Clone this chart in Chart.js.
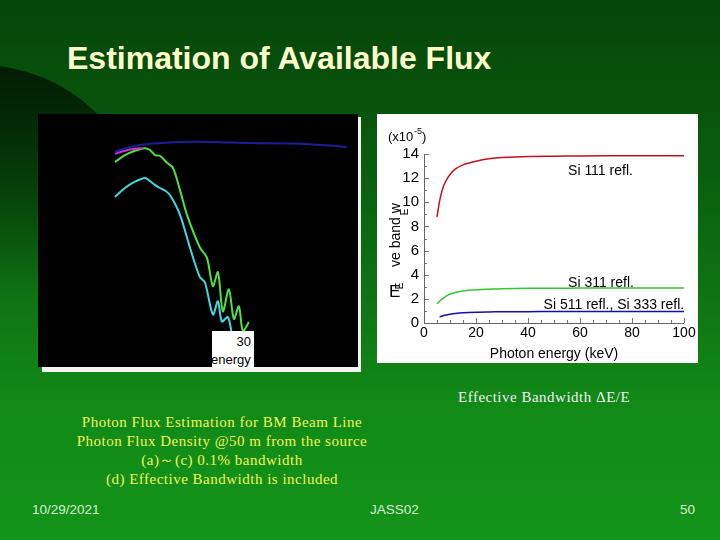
<!DOCTYPE html>
<html>
<head>
<meta charset="utf-8">
<script src="https://cdn.jsdelivr.net/npm/chart.js@4"></script>
<style>
    html, body { margin: 0; padding: 0; }
    body {
        width: 720px; height: 540px; position: relative; overflow: hidden;
        background: linear-gradient(to bottom, #054509 0%, #08580d 25%, #0e7413 55%, #118a17 75%, #13941a 100%);
        font-family: "Liberation Sans", Arial, sans-serif;
    }
    .arc {
        position: absolute; left: -185px; top: 65px; width: 330px; height: 330px; border-radius: 50%;
        background: linear-gradient(to bottom, rgba(0,22,2,0.88) 0%, rgba(0,22,2,0.6) 25%, rgba(0,22,2,0) 70%);
    }
    .title {
        position: absolute; left: 67px; top: 40px; color: #ffffcc; font-weight: bold; font-size: 32px;
        white-space: nowrap;
    }
    #leftWrap { position: absolute; left: 38px; top: 114px; width: 320px; height: 253px; background: #000; }
    .stripB { position: absolute; left: 42px; top: 367px; width: 319px; height: 5px; background: #f4f4f4; }
    .stripR { position: absolute; left: 358px; top: 117px; width: 3px; height: 255px; background: #f4f4f4; }
    .tickBox {
        position: absolute; left: 212px; top: 331px; width: 42px; height: 37px; background: #fff;
        overflow: hidden; font-size: 13px; color: #000;
    }
    #rightWrap { position: absolute; left: 377px; top: 114px; width: 321px; height: 249px; background: #fff; }
    .cap { position: absolute; font-family: "Liberation Serif", "Times New Roman", serif; white-space: nowrap; }
    .foot { position: absolute; top: 502px; color: #dcefd4; font-size: 13.5px; }
</style>
</head>
<body>
<div class="arc"></div>
<div class="title">Estimation of Available Flux</div>

<div id="leftWrap"><canvas id="fluxChart" width="320" height="253"></canvas></div>
<div class="stripB"></div>
<div class="stripR"></div>
<div class="tickBox">
    <div style="position:absolute; right:3px; top:3px;">30</div>
    <div style="position:absolute; left:-1px; top:21px; white-space:nowrap;">energy (keV)</div>
</div>

<div id="rightWrap"><canvas id="bwChart" width="321" height="249"></canvas></div>

<div class="cap" style="left:458px; top:389px; color:#f2f2f2; font-size:15px; letter-spacing:0.5px;">Effective Bandwidth ΔE/E</div>
<div class="cap" style="left:40px; width:364px; top:413px; color:#f4f45a; font-size:15px; letter-spacing:0.5px; line-height:19px; text-align:center;">
    Photon Flux Estimation for BM Beam Line<br>
    Photon Flux Density @50 m from the source<br>
    (a)～(c) 0.1% bandwidth<br>
    (d) Effective Bandwidth is included
</div>
<div class="foot" style="left:32px;">10/29/2021</div>
<div class="foot" style="left:370px;">JASS02</div>
<div class="foot" style="left:680px;">50</div>

<script>
// ---- left panel: photon flux density (log10 scale, keV) ----
const fluxBlueX = [5.0, 7.9, 11.8, 21.0, 31.4, 41.1, 50.3];
const fluxBlueY = [11.40, 11.48, 11.53, 11.56, 11.54, 11.53, 11.48];

const fluxMagentaX = [5.0, 6.95, 8.9, 10.5];
const fluxMagentaY = [11.37, 11.42, 11.45, 11.46];

const fluxGreenX = [5.0, 6.95, 8.91, 10.86, 11.84, 12.81, 13.79, 15.16, 16.33, 17.70, 19.06, 21.60, 22.97,
                    24.14, 25.12, 26.09, 27.27, 28.24, 29.22, 30.0, 31.17];
const fluxGreenY = [11.24, 11.35, 11.42, 11.46, 11.43, 11.35, 11.34, 11.23, 11.15, 10.80, 10.41, 9.89, 9.73,
                    9.28, 9.50, 8.88, 9.23, 8.76, 8.96, 8.57, 8.71];

const fluxCyanX = [5.0, 6.95, 8.91, 10.86, 11.84, 12.81, 13.79, 14.77, 15.74, 17.70, 19.65, 21.60, 22.58,
                   24.14, 25.12, 25.90, 27.07, 27.85];
const fluxCyanY = [10.69, 10.83, 10.93, 10.99, 10.94, 10.88, 10.83, 10.79, 10.72, 10.41, 9.89, 9.42, 9.34,
                   8.83, 9.04, 8.72, 8.79, 8.52];

// ---- right panel: effective bandwidth dE/E (x1e-5) ----
const bwEnergy = [5, 6, 7, 8, 10, 12, 15, 20, 25, 30, 40, 50, 60, 80, 100];
const si111 = [8.8, 10.1, 11.0, 11.6, 12.3, 12.75, 13.1, 13.4, 13.6, 13.7, 13.8, 13.82, 13.84, 13.85, 13.85];
const si311 = [1.6, 1.8, 2.0, 2.15, 2.4, 2.52, 2.65, 2.75, 2.8, 2.84, 2.87, 2.88, 2.89, 2.9, 2.9];
const si511 = [null, 0.5, 0.58, 0.64, 0.73, 0.79, 0.85, 0.9, 0.92, 0.93, 0.94, 0.95, 0.95, 0.95, 0.95];

const bwTicksX = [0, 20, 40, 60, 80, 100];
const bwTicksY = [0, 2, 4, 6, 8, 10, 12, 14];
const bwLabels = ['Si 111 refl.', 'Si 311 refl.', 'Si 511 refl., Si 333 refl.'];
const bwLabelX = [55.4, 55.4, 46.0];
const bwLabelY = [12.6, 3.3, 1.5];

function toPoints(xs, ys) {
    return xs.map((x, i) => ({ x: x, y: ys[i] }));
}

function lineSet(xs, ys, color, width) {
    return {
        data: toPoints(xs, ys),
        borderColor: color,
        borderWidth: width,
        pointRadius: 0,
        tension: 0.3,
        spanGaps: false
    };
}

// Left chart: no axes, black panel
new Chart(document.getElementById('fluxChart'), {
    type: 'line',
    data: {
        datasets: [
            lineSet(fluxBlueX, fluxBlueY, '#1c1ca0', 2),
            lineSet(fluxMagentaX, fluxMagentaY, '#d030d0', 2),
            lineSet(fluxGreenX, fluxGreenY, '#50e040', 2),
            lineSet(fluxCyanX, fluxCyanY, '#40d8e0', 2)
        ]
    },
    options: {
        responsive: false,
        animation: false,
        layout: { padding: 0 },
        plugins: { legend: { display: false }, tooltip: { enabled: false } },
        scales: {
            x: { type: 'linear', min: -10.04, max: 52.5, display: false },
            y: { min: 8.0, max: 12.0, display: false }
        }
    }
});

// Inward ticks + annotations for right chart
const bwDecor = {
    id: 'bwDecor',
    afterDatasetsDraw(chart) {
        const ctx = chart.ctx;
        const xs = chart.scales.x, ys = chart.scales.y;
        const area = chart.chartArea;
        ctx.save();
        ctx.strokeStyle = '#777';
        ctx.lineWidth = 1;
        for (let v = 0; v <= 100; v += 5) {
            const px = Math.round(xs.getPixelForValue(v)) + 0.5;
            const len = v % 20 === 0 ? 5 : 3;
            ctx.beginPath(); ctx.moveTo(px, area.bottom); ctx.lineTo(px, area.bottom - len); ctx.stroke();
        }
        for (let v = 0; v <= 14; v += 1) {
            const py = Math.round(ys.getPixelForValue(v)) + 0.5;
            const len = v % 2 === 0 ? 5 : 3;
            ctx.beginPath(); ctx.moveTo(area.left, py); ctx.lineTo(area.left + len, py); ctx.stroke();
        }
        // axis lines
        ctx.strokeStyle = '#666';
        ctx.beginPath();
        ctx.moveTo(area.left + 0.5, area.top);
        ctx.lineTo(area.left + 0.5, area.bottom + 0.5);
        ctx.lineTo(area.right, area.bottom + 0.5);
        ctx.stroke();

        ctx.fillStyle = '#000';
        ctx.font = '14px "Liberation Sans", Arial, sans-serif';
        ctx.textBaseline = 'middle';
        ctx.textAlign = 'left';
        bwLabels.forEach((t, i) => {
            ctx.fillText(t, xs.getPixelForValue(bwLabelX[i]), ys.getPixelForValue(bwLabelY[i]));
        });

        // unit marker
        ctx.font = '13px "Liberation Sans", Arial, sans-serif';
        ctx.fillText('(x10', 11, 23);
        ctx.font = '9px "Liberation Sans", Arial, sans-serif';
        ctx.fillText('-5', 37, 18);
        ctx.font = '13px "Liberation Sans", Arial, sans-serif';
        ctx.fillText(')', 45, 23);

        // clipped y title
        ctx.save();
        ctx.translate(19, 121);
        ctx.rotate(-Math.PI / 2);
        ctx.textAlign = 'center';
        ctx.font = '14px "Liberation Sans", Arial, sans-serif';
        ctx.fillText('ve band w', 0, 0);
        ctx.restore();
        ctx.save();
        ctx.translate(28, 98);
        ctx.rotate(-Math.PI / 2);
        ctx.font = '10px "Liberation Sans", Arial, sans-serif';
        ctx.textAlign = 'center';
        ctx.fillText('E', 0, 0);
        ctx.restore();
        ctx.font = '17px "Liberation Sans", Arial, sans-serif';
        ctx.fillText('E', 12, 178);
        ctx.save();
        ctx.translate(23, 172);
        ctx.rotate(-Math.PI / 2);
        ctx.font = '10px "Liberation Sans", Arial, sans-serif';
        ctx.textAlign = 'center';
        ctx.fillText('E', 0, 0);
        ctx.restore();
        ctx.restore();
    }
};

new Chart(document.getElementById('bwChart'), {
    type: 'line',
    data: {
        datasets: [
            lineSet(bwEnergy, si111, '#c8101c', 1.5),
            lineSet(bwEnergy, si311, '#30c830', 1.5),
            lineSet(bwEnergy, si511, '#1010b0', 1.5)
        ]
    },
    options: {
        responsive: false,
        animation: false,
        layout: { padding: { top: 40, right: 14, left: 0, bottom: 0 } },
        plugins: { legend: { display: false }, tooltip: { enabled: false } },
        scales: {
            x: {
                type: 'linear', min: 0, max: 100,
                afterFit(scale) { scale.height = 40; },
                afterBuildTicks(scale) { scale.ticks = bwTicksX.map(v => ({ value: v })); },
                grid: { display: false, drawTicks: false },
                border: { display: false },
                ticks: { color: '#000', padding: 2, maxRotation: 0, font: { size: 14, family: '"Liberation Sans", Arial' } },
                title: { display: true, text: 'Photon energy (keV)', color: '#000', padding: 0,
                         font: { size: 14, family: '"Liberation Sans", Arial' } }
            },
            y: {
                min: 0, max: 14,
                afterFit(scale) { scale.width = 47; },
                afterBuildTicks(scale) { scale.ticks = bwTicksY.map(v => ({ value: v })); },
                grid: { display: false, drawTicks: false },
                border: { display: false },
                ticks: { color: '#000', padding: 5, font: { size: 15, family: '"Liberation Sans", Arial' } }
            }
        }
    },
    plugins: [bwDecor]
});
</script>
</body>
</html>
